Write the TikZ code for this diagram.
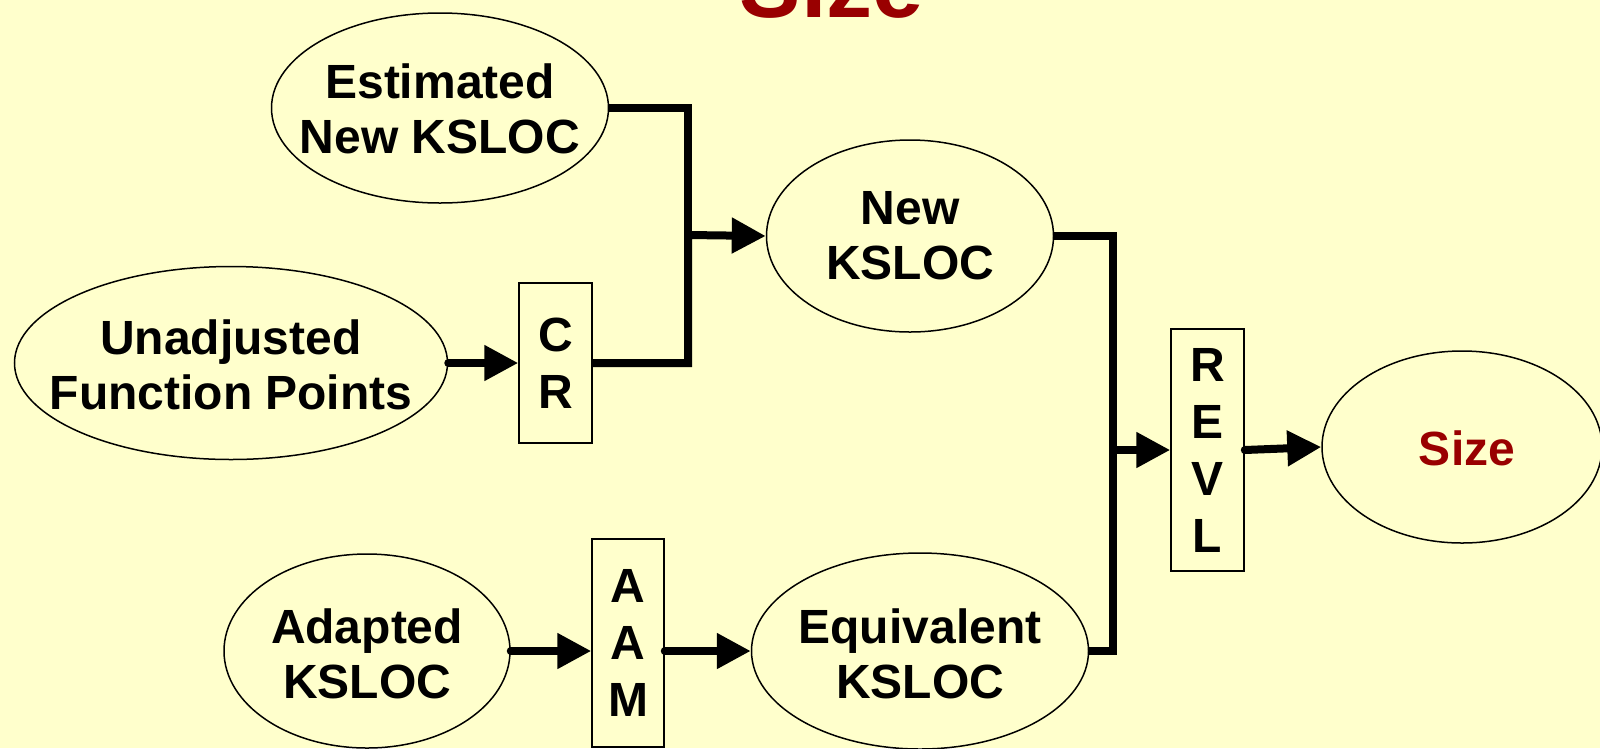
\documentclass[tikz,border=0pt]{standalone}
\usepackage{fontspec}
\setmainfont{Liberation Sans}
\usetikzlibrary{shapes.geometric,arrows.meta,calc}
\definecolor{bg}{HTML}{FFFFCC}
\definecolor{darkred}{HTML}{990000}
\tikzset{
  oval/.style={ellipse,draw=black,line width=1.5pt,inner sep=0pt},
  letterbox/.style={rectangle,draw=black,line width=1.5pt,inner sep=0pt,align=center,
    font=\fontsize{48}{57}\selectfont\bfseries},
  lbl/.style={align=center,inner sep=0pt,font=\fontsize{48}{55}\selectfont\bfseries},
  conn/.style={line width=8pt,draw=black},
  arr/.style={conn,-{Triangle[length=34pt,width=34pt]}},
}
\begin{document}
\begin{tikzpicture}[x=1pt,y=-1pt]
\useasboundingbox (0,0) rectangle (1600,748);
\fill[bg] (0,0) rectangle (1600,748);
\begin{scope}
\clip (0,0) rectangle (1600,748);
% title (cut off at top)
\node[anchor=base,inner sep=0pt,text=darkred,font=\fontsize{92}{100}\selectfont\bfseries] (title) at (832,17) {Size};
% ellipses
\node[oval,minimum width=337pt,minimum height=190pt] (est) at (440,108) {};
\node[oval,minimum width=433pt,minimum height=193pt] (ufp) at (231,363) {};
\node[oval,minimum width=287pt,minimum height=192pt] (new) at (910,236) {};
\node[oval,minimum width=286pt,minimum height=194pt] (adp) at (367,651) {};
\node[oval,minimum width=337pt,minimum height=196pt] (eqv) at (920,651) {};
\node[oval,minimum width=280pt,minimum height=192pt] (size) at (1462,447) {};
% ellipse texts
\node[lbl] (esttxt) at (440,109) {Estimated\\New KSLOC};
\node[lbl] (ufptxt) at (231,365) {Unadjusted\\Function Points};
\node[lbl] (newtxt) at (910,236) {New\\KSLOC};
\node[lbl] (adptxt) at (367,654) {Adapted\\KSLOC};
\node[lbl] (eqvtxt) at (920,654) {Equivalent\\KSLOC};
\node[lbl,text=darkred] (sizetxt) at (1467,448) {Size};
% boxes
\node[letterbox,minimum width=73pt,minimum height=160pt] (cr) at (555.5,363) {C\\R};
\node[letterbox,minimum width=73pt,minimum height=242pt] (revl) at (1207.5,450) {R\\E\\V\\L};
\node[letterbox,minimum width=72pt,minimum height=208pt] (aam) at (628,643) {A\\A\\M};
% junctions
\coordinate (j1) at (688,235);
\coordinate (j2) at (1113,450);
% connectors
\draw[conn] (est.east) -| (j1);
\draw[arr] (cr.east) -| (j1) -- (new.west);
\draw[arr,line cap=round] (ufp.east) -- (cr.west |- ufp.east);
\draw[conn] (new.east) -| (j2);
\draw[conn] (eqv.east) -| (j2);
\draw[arr] (j2) -- (revl.west);
\draw[arr,line cap=round] (revl.east) -- (size.west);
\draw[arr,line cap=round] (adp.east) -- (aam.west |- adp.east);
\draw[arr,line cap=round] (aam.east |- adp.east) -- (eqv.west);
\end{scope}
\end{tikzpicture}
\end{document}
